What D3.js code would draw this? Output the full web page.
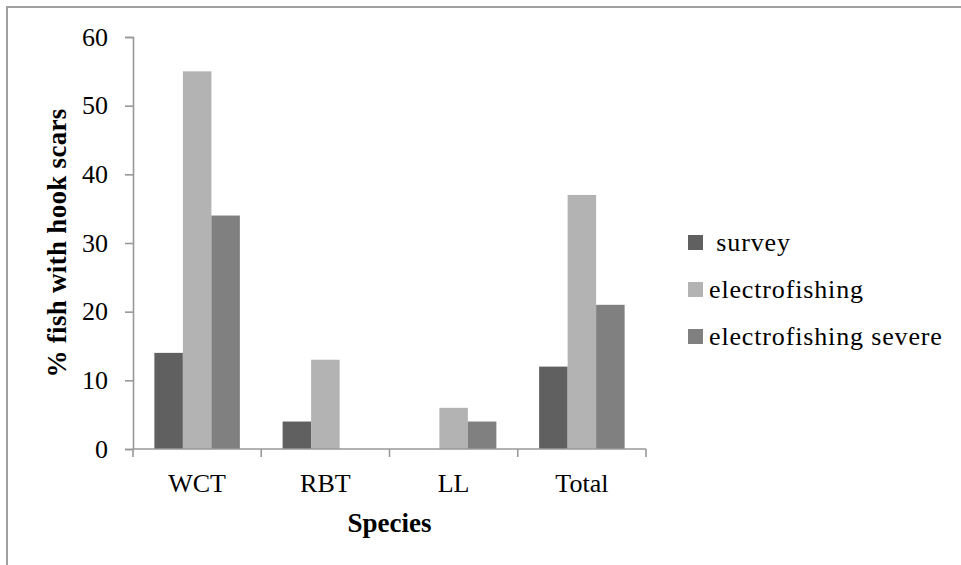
<!DOCTYPE html>
<html>
<head>
<meta charset="utf-8">
<script src="https://cdn.jsdelivr.net/npm/d3@7/dist/d3.min.js"></script>
<style>
  html, body { margin: 0; padding: 0; background: #fff; }
  svg { display: block; }
  text { font-family: "Liberation Serif", "DejaVu Serif", serif; fill: #000; }
</style>
</head>
<body>
<svg id="chart" width="961" height="565"></svg>
<script>
const categories = ["WCT", "RBT", "LL", "Total"];
const seriesNames = [" survey", "electrofishing", "electrofishing severe"];
const survey = [14, 4, 0, 12];
const electrofishing = [55, 13, 6, 37];
const electrofishingSevere = [34, 0, 4, 21];
const yTicks = [0, 10, 20, 30, 40, 50, 60];
const colors = ["#606060", "#b3b3b3", "#808080"];

const seriesValues = [survey, electrofishing, electrofishingSevere];

const svg = d3.select("#chart");
const W = 961, H = 565;

// outer frame (top & left visible, extends past the canvas)
svg.append("rect")
  .attr("x", 7).attr("y", 7)
  .attr("width", W + 20).attr("height", H + 20)
  .attr("fill", "none").attr("stroke", "#a0a0a0").attr("stroke-width", 2);

const plot = { left: 133, right: 646, top: 37, bottom: 449 };

const y = d3.scaleLinear().domain([0, 60]).range([plot.bottom, plot.top]);
const x0 = d3.scaleBand().domain(categories).range([plot.left, plot.right]).padding(0);
const bw = x0.bandwidth() / 4.5;
const x1 = d3.scaleBand().domain(d3.range(seriesNames.length))
  .range([0.75 * bw, 3.75 * bw]).padding(0);

// bars
const g = svg.append("g");
categories.forEach((c, ci) => {
  seriesValues.forEach((vals, si) => {
    const v = vals[ci];
    if (v <= 0) return;
    g.append("rect")
      .attr("x", x0(c) + x1(si))
      .attr("y", y(v))
      .attr("width", x1.bandwidth())
      .attr("height", y(0) - y(v))
      .attr("fill", colors[si]);
  });
});

// y axis
const yAxis = d3.axisLeft(y).tickValues(yTicks).tickSize(8).tickPadding(17).tickFormat(d3.format("d"));
const yg = svg.append("g").attr("transform", `translate(${plot.left},0)`).call(yAxis);
yg.select(".domain").attr("stroke", "#999").attr("stroke-width", 1.6);
yg.selectAll(".tick line").attr("stroke", "#999").attr("stroke-width", 1.6);
yg.selectAll(".tick text").style("font-size", "26px").attr("fill", "#000")
  .style("font-family", "'Liberation Serif', serif");

// x axis line + category boundary ticks
const xg = svg.append("g");
xg.append("line")
  .attr("x1", plot.left).attr("x2", plot.right)
  .attr("y1", y(0)).attr("y2", y(0))
  .attr("stroke", "#999").attr("stroke-width", 1.6);
const bounds = categories.map(c => x0(c)).concat([x0.range()[1]]);
xg.selectAll("line.tk").data(bounds).enter().append("line")
  .attr("class", "tk")
  .attr("x1", d => d).attr("x2", d => d)
  .attr("y1", y(0)).attr("y2", y(0) + 8)
  .attr("stroke", "#999").attr("stroke-width", 1.6);
xg.selectAll("text.cat").data(categories).enter().append("text")
  .attr("class", "cat")
  .attr("x", d => x0(d) + x0.bandwidth() / 2)
  .attr("y", 492)
  .attr("text-anchor", "middle")
  .style("font-size", "26px")
  .text(d => d);

// axis titles
svg.append("text")
  .attr("x", (plot.left + plot.right) / 2)
  .attr("y", 532)
  .attr("text-anchor", "middle")
  .style("font-size", "27px").style("font-weight", "bold")
  .text("Species");

svg.append("text")
  .attr("transform", `translate(66,${(plot.top + plot.bottom) / 2}) rotate(-90)`)
  .attr("text-anchor", "middle")
  .style("font-size", "27px").style("font-weight", "bold")
  .style("letter-spacing", "0.3px")
  .text("% fish with hook scars");

// legend
const legend = svg.append("g");
const legY0 = 243, legStep = 47;
seriesNames.forEach((name, i) => {
  const cy = legY0 + i * legStep;
  legend.append("rect")
    .attr("x", 688).attr("y", cy - 8)
    .attr("width", 15).attr("height", 15)
    .attr("fill", colors[i]);
  legend.append("text")
    .attr("x", 709).attr("y", cy + 8)
    .attr("xml:space", "preserve")
    .style("white-space", "pre")
    .style("font-size", "26px")
    .style("letter-spacing", "0.85px")
    .text(name);
});
</script>
</body>
</html>
